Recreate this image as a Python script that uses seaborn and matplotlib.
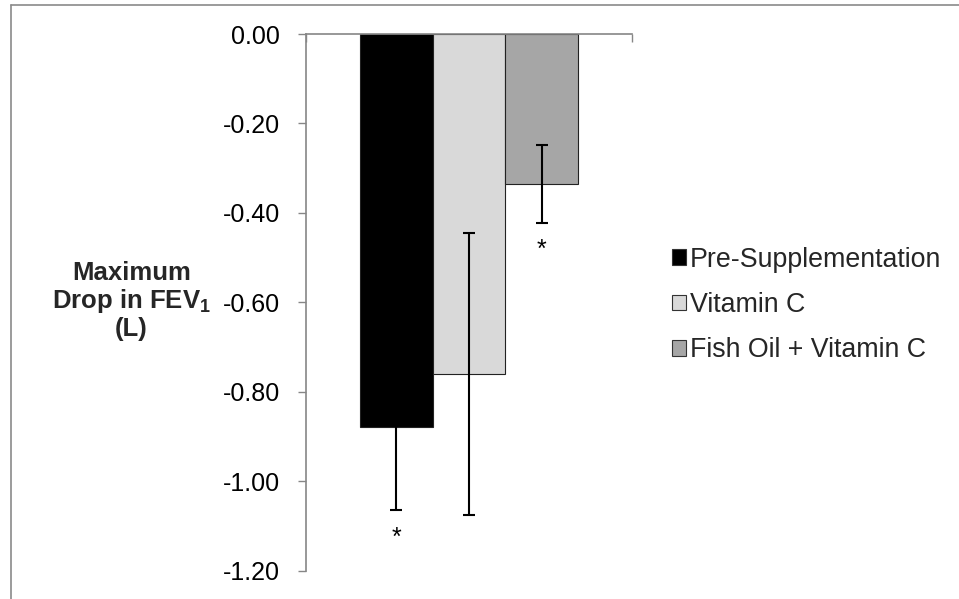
import matplotlib
matplotlib.use("Agg")
import matplotlib.pyplot as plt
import seaborn as sns
import pandas as pd
import numpy as np
from matplotlib.lines import Line2D
from matplotlib.patches import Patch

# ---- data ----
groups = ["Pre-Supplementation", "Vitamin C", "Fish Oil + Vitamin C"]
means = [-0.88, -0.76, -0.335]
errors = [0.185, 0.316, 0.087]
significant = [True, False, True]
colors = ["#000000", "#d9d9d9", "#a6a6a6"]
yticks = [0.0, -0.2, -0.4, -0.6, -0.8, -1.0, -1.2]
ytick_labels = ["0.00", "-0.20", "-0.40", "-0.60", "-0.80", "-1.00", "-1.20"]

df = pd.DataFrame({"cat": ["FEV1"] * len(groups), "group": groups, "value": means})

sns.set_style("white")
plt.rcParams["font.family"] = ["Liberation Sans", "DejaVu Sans"]
plt.rcParams["mathtext.fontset"] = "custom"
plt.rcParams["mathtext.rm"] = "Liberation Sans"
plt.rcParams["mathtext.bf"] = "Liberation Sans:bold"

W, H = 959, 599
fig = plt.figure(figsize=(W / 100, H / 100), dpi=100)
ax = fig.add_axes([306 / W, 1 - 570.5 / H, 326 / W, 536.5 / H])

sns.barplot(data=df, x="cat", y="value", hue="group", hue_order=groups,
            palette=colors, width=0.67, errorbar=None, ax=ax,
            edgecolor="#222222", linewidth=0.8, legend=False)

# error bars at bar centres
bars = [p for p in ax.patches if p.get_width() > 0]
bars = sorted(bars, key=lambda p: p.get_x())
xs = [p.get_x() + p.get_width() / 2 for p in bars]
ax.errorbar(xs, means, yerr=errors, fmt="none", ecolor="black",
            elinewidth=1.5, capsize=4.5, capthick=1.5, zorder=5)

for x, m, e, s in zip(xs, means, errors, significant):
    if s:
        ax.annotate("*", xy=(x, m - e), xytext=(0, -11), textcoords="offset points",
                    ha="center", va="top", fontsize=18, color="black")

ax.set_ylim(-1.2, 0.0)
ax.set_xlim(-0.5, 0.5)
ax.set_yticks(yticks)
ax.set_yticklabels(ytick_labels, fontsize=18)
ax.tick_params(axis="y", direction="out", length=5.8, width=1, color="#868686",
               pad=13, labelcolor="black", left=True)

# category axis along the top (y=0)
ax.xaxis.tick_top()
ax.set_xticks([-0.5, 0.5])
ax.set_xticklabels(["", ""])
ax.tick_params(axis="x", direction="in", length=5.8, width=1, color="#868686", top=True, bottom=False)
ax.set_xlabel("")

for side in ["right", "bottom"]:
    ax.spines[side].set_visible(False)
for side in ["left", "top"]:
    ax.spines[side].set_visible(True)
    ax.spines[side].set_color("#868686")
    ax.spines[side].set_linewidth(1.2)

ax.set_ylabel("Maximum\nDrop in FEV$_\\mathbf{1}$\n(L)", rotation=0, fontsize=18.5,
              fontweight="bold", ha="center", va="center", linespacing=1.12)
ax.yaxis.set_label_coords((131.5 - 306) / 326, (570.5 - 301) / 536.5)

handles = [Patch(facecolor=c, edgecolor="#333333", linewidth=0.8) for c in colors]
leg = fig.legend(handles, groups, loc="center left", bbox_to_anchor=(672 / W, 1 - 305 / H),
                 frameon=False, fontsize=19.3, handlelength=0.52, handleheight=0.52,
                 handletextpad=0.15, labelspacing=0.72, borderpad=0, borderaxespad=0)

# chart-area border (partially visible)
fig.add_artist(Line2D([11 / W, 11 / W], [0, 1 - 4.5 / H], transform=fig.transFigure,
                      color="#8a8a8a", linewidth=1.2))
fig.add_artist(Line2D([11 / W, 1], [1 - 4.5 / H, 1 - 4.5 / H], transform=fig.transFigure,
                      color="#8a8a8a", linewidth=1.2))

fig.savefig("out.png", dpi=100)
